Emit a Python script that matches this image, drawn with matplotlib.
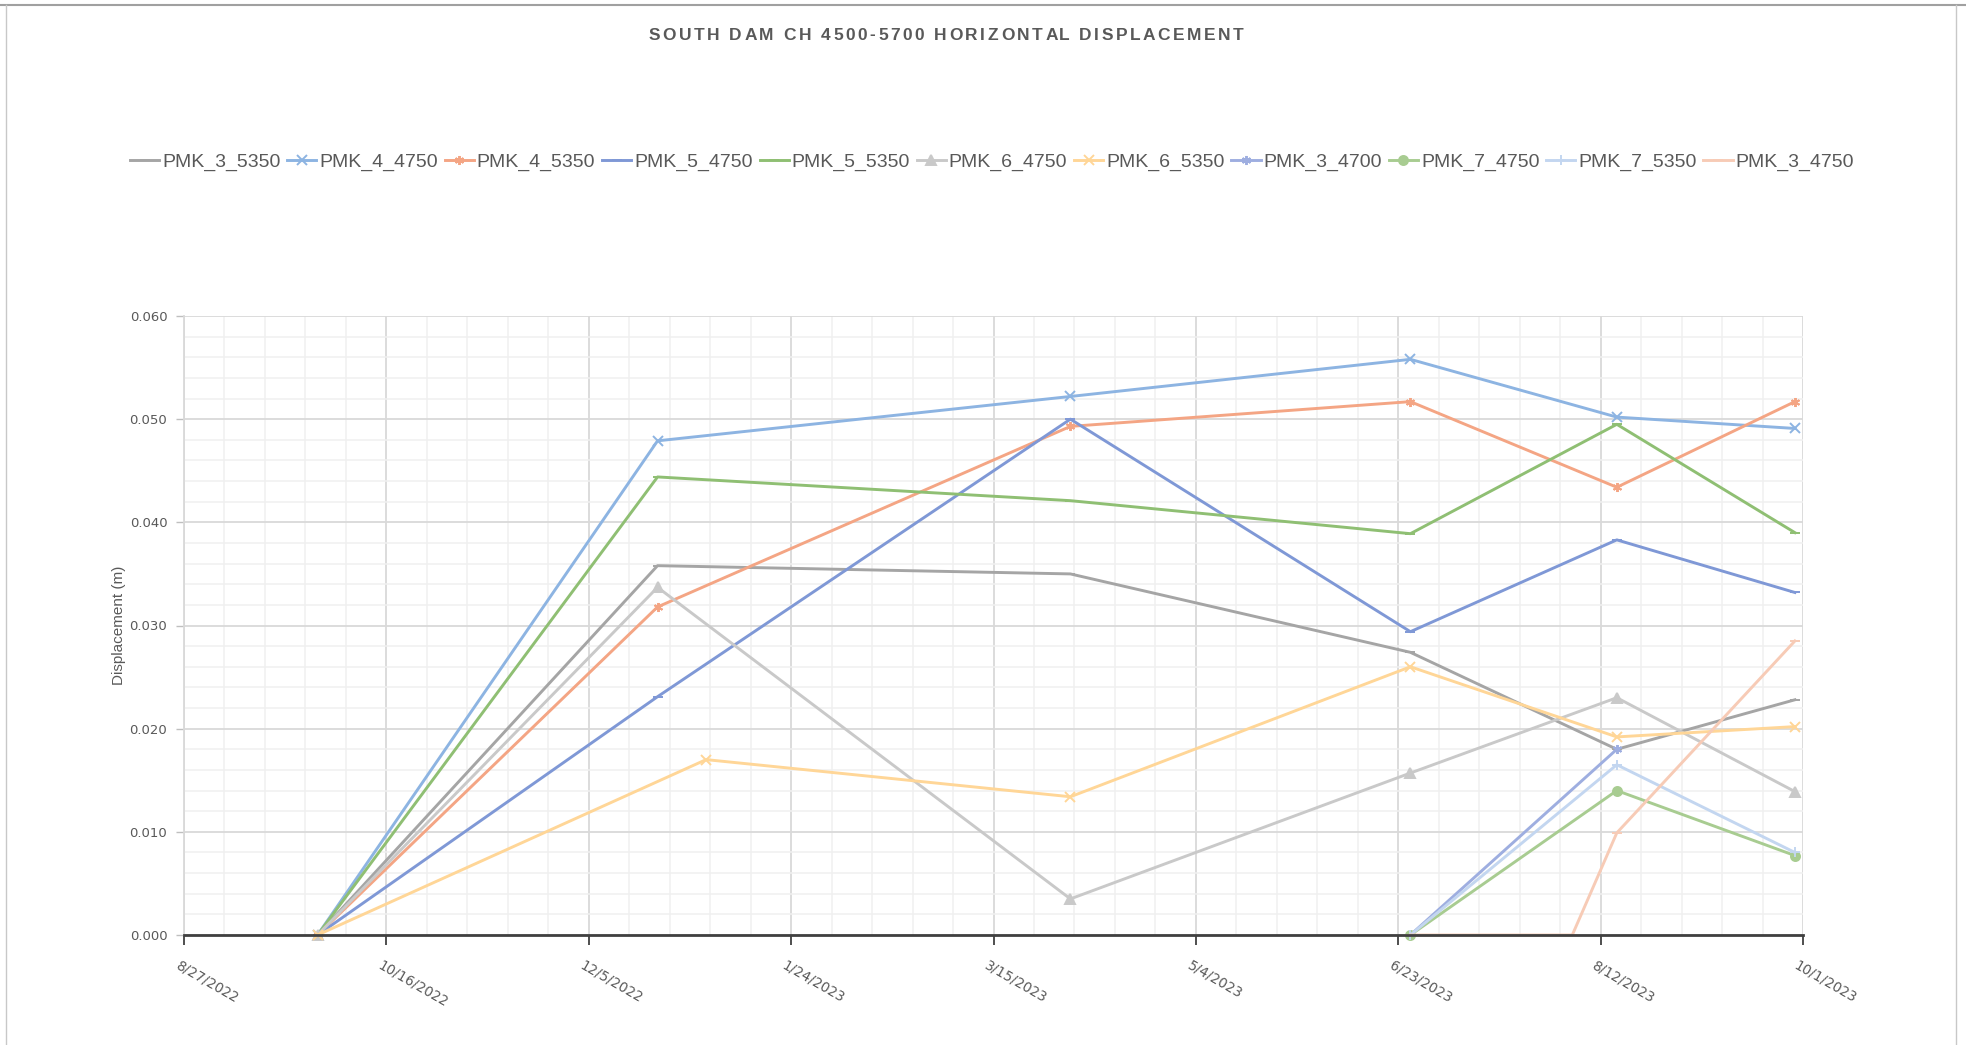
import numpy as np
import matplotlib
matplotlib.use("Agg")
import matplotlib.pyplot as plt
import matplotlib.dates as mdates
import matplotlib.transforms as mtransforms
from matplotlib.lines import Line2D
from datetime import datetime

# ---- survey data -------------------------------------------------------
survey_dates = ["2022-09-29", "2022-12-22", "2023-04-03", "2023-06-26",
                "2023-08-16", "2023-09-29"]
dates_6_5350 = ["2022-09-29", "2023-01-03", "2023-04-03", "2023-06-26",
                "2023-08-16", "2023-09-29"]
dates_late = ["2023-06-26", "2023-08-16", "2023-09-29"]
dates_3_4700 = ["2023-06-26", "2023-08-16"]
dates_3_4750 = ["2023-06-26", "2023-08-05", "2023-08-16", "2023-09-29"]

pmk_3_5350 = [0.0, 0.0358, 0.0350, 0.0274, 0.0180, 0.0228]
pmk_4_4750 = [0.0, 0.0479, 0.0522, 0.0558, 0.0502, 0.0491]
pmk_4_5350 = [0.0, 0.0318, 0.0493, 0.0517, 0.0434, 0.0517]
pmk_5_4750 = [0.0, 0.0231, 0.0500, 0.0294, 0.0383, 0.0332]
pmk_5_5350 = [0.0, 0.0444, 0.0421, 0.0389, 0.0495, 0.0390]
pmk_6_4750 = [0.0, 0.0337, 0.0035, 0.0157, 0.0230, 0.0139]
pmk_6_5350 = [0.0, 0.0170, 0.0134, 0.0260, 0.0192, 0.0202]
pmk_3_4700 = [0.0, 0.0180]
pmk_7_4750 = [0.0, 0.0140, 0.0077]
pmk_7_5350 = [0.0, 0.0165, 0.0080]
pmk_3_4750 = [0.0, 0.0, 0.0099, 0.0285]

x_tick_dates = ["2022-08-27", "2022-10-16", "2022-12-05", "2023-01-24",
                "2023-03-15", "2023-05-04", "2023-06-23", "2023-08-12",
                "2023-10-01"]
y_ticks = [0.0, 0.01, 0.02, 0.03, 0.04, 0.05, 0.06]

title = "SOUTH DAM CH 4500-5700 HORIZONTAL DISPLACEMENT"
y_label = "Displacement (m)"

# ---- style -------------------------------------------------------------
asterisk = (6, 2, 0)
series = [
    ("PMK_3_5350", survey_dates, pmk_3_5350, "#A5A5A5", "_"),
    ("PMK_4_4750", survey_dates, pmk_4_4750, "#8DB4E2", "x"),
    ("PMK_4_5350", survey_dates, pmk_4_5350, "#F4A584", asterisk),
    ("PMK_5_4750", survey_dates, pmk_5_4750, "#7F98D6", "_"),
    ("PMK_5_5350", survey_dates, pmk_5_5350, "#8FBF73", "_"),
    ("PMK_6_4750", survey_dates, pmk_6_4750, "#C9C9C9", "^"),
    ("PMK_6_5350", dates_6_5350, pmk_6_5350, "#FFD697", "x"),
    ("PMK_3_4700", dates_3_4700, pmk_3_4700, "#9EAEE0", asterisk),
    ("PMK_7_4750", dates_late, pmk_7_4750, "#A8CC91", "o"),
    ("PMK_7_5350", dates_late, pmk_7_5350, "#C3D6F0", "+"),
    ("PMK_3_4750", dates_3_4750, pmk_3_4750, "#F7CBB6", "_"),
]

text_grey = "#595959"
W, H = 1966, 1045
fig = plt.figure(figsize=(W / 100, H / 100), dpi=100)
fig.patch.set_facecolor("white")

ax = fig.add_axes([184 / W, 1 - 935 / H, (1803 - 184) / W, (935 - 316) / H])


def to_num(strs):
    return mdates.date2num([datetime.strptime(s, "%Y-%m-%d") for s in strs])


for name, d, v, c, m in series:
    ax.plot(to_num(d), v, color=c, lw=2.1, marker=m, markersize=6.5,
            markeredgewidth=1.4, markerfacecolor=c, markeredgecolor=c,
            label=name, zorder=3, clip_on=False)

# axes ranges and grid
xt = to_num(x_tick_dates)
ax.set_xlim(xt[0], xt[-1])
ax.set_ylim(0, 0.06)
ax.set_xticks(xt)
ax.set_xticks(np.arange(xt[0], xt[-1] + 1, 10), minor=True)
ax.set_yticks(y_ticks)
ax.set_yticks(np.arange(0, 0.0601, 0.002), minor=True)
tick_dt = [datetime.strptime(s, "%Y-%m-%d") for s in x_tick_dates]
ax.set_xticklabels([f"{d.month}/{d.day}/{d.year}" for d in tick_dt])
ax.set_yticklabels([f"{t:.3f}" for t in y_ticks])

ax.grid(which="major", color="#D9D9D9", lw=1.3, zorder=0)
ax.grid(which="minor", color="#F0F0F0", lw=1.1, zorder=0)
ax.set_axisbelow(True)

for s in ("top", "right"):
    ax.spines[s].set_visible(False)
ax.spines["left"].set_color("#D9D9D9")
ax.spines["left"].set_linewidth(1.3)
ax.spines["bottom"].set_color("#404040")
ax.spines["bottom"].set_linewidth(2.0)
ax.spines["bottom"].set_zorder(4)

ax.tick_params(axis="x", which="major", length=7, width=1.3, color="#404040",
               labelsize=9.8, labelcolor=text_grey, pad=10)
ax.tick_params(axis="x", which="minor", length=0)
ax.tick_params(axis="y", which="major", length=6, width=1.0, color="#BFBFBF",
               labelsize=9.5, labelcolor=text_grey, pad=6)
ax.tick_params(axis="y", which="minor", length=0)

offset = mtransforms.ScaledTranslation(-4 / 100, 0, fig.dpi_scale_trans)
for lab in ax.get_xticklabels():
    lab.set_rotation(-30)
    lab.set_rotation_mode("anchor")
    lab.set_ha("left")
    lab.set_va("top")
    lab.set_transform(lab.get_transform() + offset)

fig.text(119 / W, 1 - 625 / H, y_label, rotation=90, ha="center",
         va="center", fontsize=11, color=text_grey,
         family="Liberation Sans")

# letter-spaced chart title
renderer = fig.canvas.get_renderer()
title_kw = dict(fontsize=12.5, fontweight="bold", color=text_grey,
                family="Liberation Sans", va="center", ha="left")


def text_width(s):
    t = fig.text(0, 0, s, **title_kw)
    w = t.get_window_extent(renderer).width
    t.remove()
    return w


ref_w = text_width("I")
advances = [text_width(title[:i] + "I") - ref_w for i in range(len(title) + 1)]
natural = advances[-1]
target_w = 595.0
gap = (target_w - natural) / (len(title) - 1)
x_start = 946 - target_w / 2
for i, ch in enumerate(title):
    if ch == " ":
        continue
    fig.text((x_start + advances[i] + i * gap) / W, 1 - 35 / H, ch, **title_kw)

handles, labels = ax.get_legend_handles_labels()
fig.legend(handles, labels, loc="center", bbox_to_anchor=(992 / W, 1 - 162 / H),
           ncol=len(labels), frameon=False,
           prop={"family": "Liberation Sans", "size": 14},
           handlelength=1.5, handletextpad=0.15, columnspacing=0.35,
           labelcolor=text_grey, borderpad=0)

# outer sheet frame
frame_c = "#A0A0A0"
fig.add_artist(Line2D([0, 1], [1 - 5 / H, 1 - 5 / H], color=frame_c, lw=1.5,
                      transform=fig.transFigure))
fig.add_artist(Line2D([6 / W, 6 / W], [0, 1 - 5 / H], color="#C8C8C8", lw=1.0,
                      transform=fig.transFigure))
fig.add_artist(Line2D([1956 / W, 1956 / W], [0, 1 - 5 / H], color="#C8C8C8",
                      lw=1.0, transform=fig.transFigure))

fig.savefig("out.png", dpi=100, facecolor="white")
